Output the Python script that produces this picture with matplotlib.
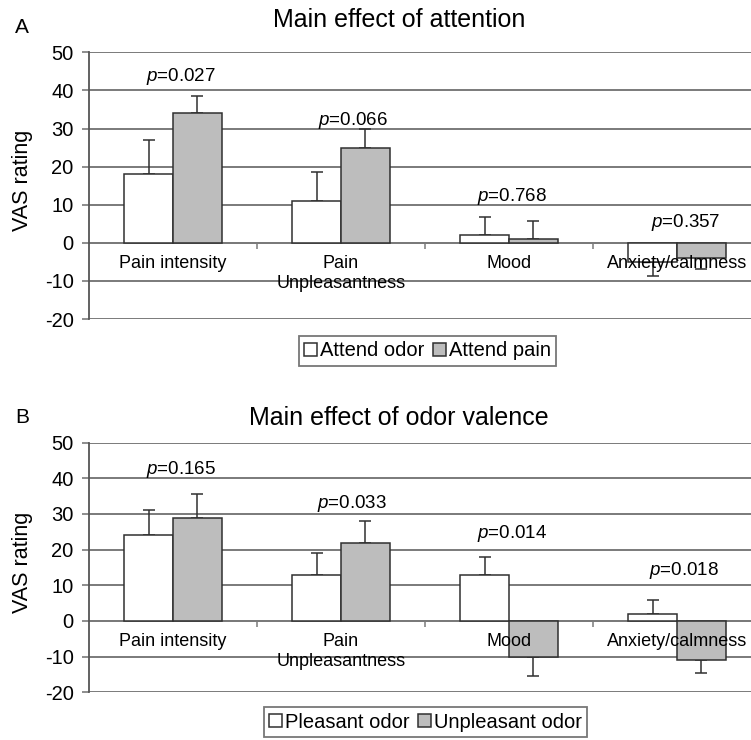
import matplotlib
matplotlib.use("Agg")
import matplotlib.pyplot as plt
import numpy as np

plt.rcParams["font.family"] = ["Liberation Sans", "DejaVu Sans"]
plt.rcParams["mathtext.fontset"] = "custom"
plt.rcParams["mathtext.it"] = "Liberation Sans:italic"
plt.rcParams["mathtext.rm"] = "Liberation Sans"
plt.rcParams["axes.unicode_minus"] = False

categories = ["Pain intensity", "Pain\nUnpleasantness", "Mood", "Anxiety/calmness"]
y_ticks = [-20, -10, 0, 10, 20, 30, 40, 50]

# panel A: main effect of attention
attn_labels = ["Attend odor", "Attend pain"]
attn_odor = [18, 11, 2, -5]
attn_odor_err = [9, 7.5, 4.7, 3.8]
attn_pain = [34, 25, 1, -4]
attn_pain_err = [4.5, 5, 4.7, 3]
attn_p = ["0.027", "0.066", "0.768", "0.357"]

# panel B: main effect of odor valence
val_labels = ["Pleasant odor", "Unpleasant odor"]
val_pleasant = [24, 13, 13, 2]
val_pleasant_err = [7, 6, 5, 4]
val_unpleasant = [29, 22, -10, -11]
val_unpleasant_err = [6.5, 6, 5.5, 3.5]
val_p = ["0.165", "0.033", "0.014", "0.018"]

# where the p-value labels sit (x offset from category centre, y in data units)
attn_p_pos = [(0.05, 43.6), (0.07, 32.1), (0.02, 12.1), (0.05, 5.4)]
val_p_pos = [(0.05, 42.6), (0.065, 32.8), (0.02, 24.4), (0.04, 14.2)]

WHITE = "white"
GRAY = "#bdbdbd"
GRID = "#7a7a7a"
EDGE = "#303030"
BAR_W = 0.29


def one_sided(values, errs):
    lower = [e if v < 0 else 0 for v, e in zip(values, errs)]
    upper = [e if v >= 0 else 0 for v, e in zip(values, errs)]
    return [lower, upper]


def draw_panel(ax, s1, e1, s2, e2, pvals, ppos, labels):
    x = np.arange(len(categories))
    b1 = ax.bar(x - BAR_W / 2, s1, BAR_W, color=WHITE, edgecolor=EDGE, linewidth=1.1, zorder=2, label=labels[0])
    b2 = ax.bar(x + BAR_W / 2, s2, BAR_W, color=GRAY, edgecolor=EDGE, linewidth=1.1, zorder=2, label=labels[1])
    ax.errorbar(x - BAR_W / 2, s1, yerr=one_sided(s1, e1), fmt="none", ecolor=EDGE,
                elinewidth=1.1, capsize=4, capthick=1.1, zorder=1.5)
    ax.errorbar(x + BAR_W / 2, s2, yerr=one_sided(s2, e2), fmt="none", ecolor=EDGE,
                elinewidth=1.1, capsize=4, capthick=1.1, zorder=1.5)

    for i, (pv, (dx, py)) in enumerate(zip(pvals, ppos)):
        ax.text(i + dx, py, f"$p$=" + pv, ha="center", va="center", fontsize=13.5, zorder=6)

    ax.set_xlim(-0.5, len(categories) - 0.5)
    ax.set_ylim(y_ticks[0], y_ticks[-1])
    ax.set_yticks(y_ticks)
    ax.set_axisbelow(True)
    ax.yaxis.grid(True, color=GRID, linewidth=1.4)
    ax.tick_params(axis="y", direction="out", length=5, width=1.2, color=GRID, labelsize=14.5, pad=6)

    ax.spines["top"].set_visible(False)
    ax.spines["right"].set_visible(False)
    ax.spines["left"].set_color("#555555")
    ax.spines["left"].set_linewidth(1.3)
    ax.spines["bottom"].set_position(("data", 0))
    ax.spines["bottom"].set_color(GRID)
    ax.spines["bottom"].set_linewidth(1.4)
    ax.spines["bottom"].set_zorder(1.8)

    ax.set_xticks(x[:-1] + 0.5)
    ax.set_xticklabels([])
    ax.set_xticks(x, minor=True)
    ax.set_xticklabels(categories, minor=True, fontsize=13)
    ax.tick_params(axis="x", which="major", direction="out", length=4, width=1.1, color=GRID)
    ax.tick_params(axis="x", which="minor", length=0, pad=9)
    ax.xaxis.set_zorder(5)

    ax.set_ylabel("VAS rating", fontsize=15.5)
    ax.yaxis.set_label_coords(-0.083, 0.52)
    return b1, b2


fig = plt.figure(figsize=(7.51, 7.40), dpi=100)
axA = fig.add_axes([0.1185, 0.5689, 0.8948, 0.3604])
axB = fig.add_axes([0.1185, 0.0645, 0.8948, 0.3373])

handles_a = draw_panel(axA, attn_odor, attn_odor_err, attn_pain, attn_pain_err, attn_p, attn_p_pos, attn_labels)
handles_b = draw_panel(axB, val_pleasant, val_pleasant_err, val_unpleasant, val_unpleasant_err, val_p, val_p_pos, val_labels)

fig.text(0.531, 0.963, "Main effect of attention", ha="center", va="baseline", fontsize=18)
fig.text(0.531, 0.4257, "Main effect of odor valence", ha="center", va="baseline", fontsize=18)
fig.text(0.02, 1 - 33 / 740, "A", ha="left", va="baseline", fontsize=15)
fig.text(0.02, 1 - 423 / 740, "B", ha="left", va="baseline", fontsize=15)

legend_style = dict(loc="center", ncol=2, fontsize=14.5, frameon=True, fancybox=False,
                    handlelength=0.65, handleheight=0.65, handletextpad=0.12, columnspacing=0.45,
                    borderpad=0.25, borderaxespad=0)
legA = fig.legend(handles_a, attn_labels, bbox_to_anchor=(0.569, 0.5257), **legend_style)
legB = fig.legend(handles_b, val_labels, bbox_to_anchor=(0.5666, 0.0243), **legend_style)
for leg in (legA, legB):
    leg.get_frame().set_edgecolor("#555555")
    leg.get_frame().set_linewidth(1.3)

fig.savefig("out.png", dpi=100)
